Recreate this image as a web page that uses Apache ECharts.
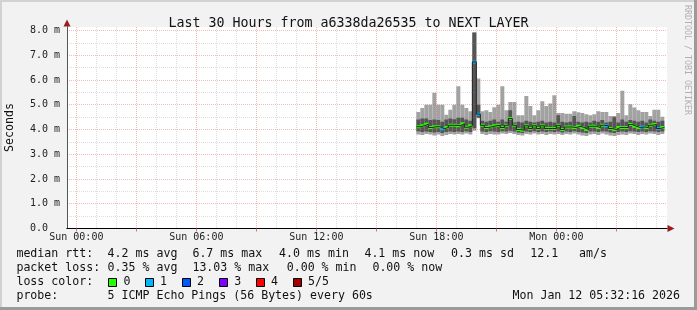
<!DOCTYPE html>
<html><head><meta charset="utf-8">
<script src="https://cdn.jsdelivr.net/npm/echarts@6/dist/echarts.min.js"></script>
<style>html,body{margin:0;padding:0;background:#f2f2f2;}#c{width:697px;height:310px;}</style>
</head><body><div id="c"></div>
<script>
// ---- data (minutes relative to Sun 00:00; values in ms) ----
const firstBinMinute = 1020;   // Sun 17:00
const binMinutes = 12;
const pingMax = [4.71,4.87,5.00,5.00,5.48,5.00,5.00,4.60,4.80,5.00,
 5.75,5.00,4.87,4.74,7.92,6.06,4.74,4.78,4.71,4.90,
 5.00,5.75,4.78,5.11,5.11,4.58,4.58,5.35,4.95,4.58,
 4.78,5.14,4.95,5.05,5.38,4.67,4.67,4.64,4.64,4.74,
 4.70,4.67,4.62,4.58,4.62,4.74,4.71,4.71,4.54,4.51,
 4.67,5.56,4.58,5.02,4.89,4.78,4.71,4.71,4.54,4.80,
 4.80,4.51];
const pingHigh = [4.40,4.44,4.44,4.38,4.40,4.38,4.31,4.40,4.44,4.41,
 4.47,4.47,4.40,4.35,7.92,5.00,4.35,4.31,4.35,4.40,
 4.31,4.40,4.31,4.78,4.28,4.31,4.28,4.35,4.31,4.28,
 4.31,4.35,4.28,4.31,4.28,4.58,4.31,4.28,4.31,4.54,
 4.31,4.28,4.31,4.28,4.35,4.31,4.38,4.28,4.31,4.52,
 4.28,4.40,4.31,4.38,4.35,4.31,4.35,4.28,4.40,4.35,
 4.31,4.35];
const medianRtt = [4.11,4.15,4.21,4.08,4.11,4.11,4.03,4.08,4.17,4.17,
 4.15,4.23,4.09,4.15,6.73,4.62,4.17,4.08,4.11,4.15,
 4.17,4.08,4.17,4.44,4.17,4.00,3.97,4.15,4.04,4.15,
 4.04,4.15,4.04,4.04,4.04,4.17,4.00,4.10,4.10,4.08,
 4.13,4.08,4.00,4.13,4.13,4.08,4.17,4.15,4.04,4.00,
 4.08,4.08,4.08,4.20,4.13,4.08,4.10,4.08,4.17,4.20,
 4.04,4.08];
const pingLow = [3.93,3.90,3.92,3.90,3.88,3.90,3.86,3.90,3.92,3.90,
 3.92,3.90,3.93,3.90,4.05,4.47,3.92,3.90,3.93,3.92,
 3.90,3.93,3.92,3.95,3.92,3.88,3.86,3.92,3.90,3.93,
 3.90,3.92,3.90,3.92,3.90,3.92,3.88,3.92,3.90,3.93,
 3.90,3.88,3.86,3.92,3.92,3.90,3.93,3.92,3.88,3.86,
 3.90,3.92,3.90,3.93,3.92,3.90,3.92,3.90,3.93,3.92,
 3.90,3.92];
const pingMin = [3.80,3.78,3.82,3.80,3.76,3.80,3.74,3.78,3.82,3.80,
 3.82,3.80,3.84,3.80,3.95,4.45,3.82,3.78,3.82,3.80,
 3.80,3.84,3.82,3.86,3.82,3.78,3.76,3.82,3.80,3.84,
 3.80,3.82,3.78,3.82,3.80,3.82,3.78,3.82,3.80,3.84,
 3.80,3.76,3.74,3.80,3.82,3.78,3.84,3.80,3.76,3.74,
 3.78,3.80,3.78,3.84,3.82,3.78,3.82,3.80,3.84,3.82,
 3.78,3.82];
const lossCount = [0,0,0,0,0,0,1,0,0,0, 0,0,0,0,1,1,0,0,0,0,
 0,0,0,0,0,0,0,0,0,0, 0,0,0,0,0,0,0,0,0,0,
 0,0,0,0,0,0,0,1,0,0, 0,0,0,0,0,0,1,0,0,0, 1,0];
const xLabelValues = [0, 360, 720, 1080, 1440];
const xLabelTexts = ['Sun 00:00','Sun 06:00','Sun 12:00','Sun 18:00','Mon 00:00'];
const yLabelValues = [0,1,2,3,4,5,6,7,8];
const yLabelTexts = ['0.0  ','1.0 m','2.0 m','3.0 m','4.0 m','5.0 m','6.0 m','7.0 m','8.0 m'];
const lossLabels = ['0','1','2','3','4','5/5'];
const lossColors = ['#26ff00','#00b8ff','#0059ff','#7e00ff','#ff0000','#a10000'];

// ---- build ----
const MONO = "'DejaVu Sans Mono', monospace";
const xMin = -28, xMax = 1772, yMin = 0, yMax = 8.14;
const bins = medianRtt.map((m, i) => [firstBinMinute + i * binMinutes, firstBinMinute + (i + 1) * binMinutes]);
const smokeData = bins.map((b, i) => [b[0], b[1], pingMin[i], pingLow[i], pingHigh[i], pingMax[i]]);
const medianData = bins.map((b, i) => [b[0], b[1], medianRtt[i], lossCount[i]]);
const medianLine = bins.map((b, i) => [b[0], medianRtt[i]])
  .concat([[bins[bins.length - 1][1], medianRtt[medianRtt.length - 1]]]);

const xMinorGrid = [], xMajorGrid = [], yMinorGrid = [], yMajorGrid = [];
for (let m = 0; m <= xMax; m += 60) (m % 180 === 0 ? xMajorGrid : xMinorGrid).push(m);
for (let v = 0; v <= 8; v += 0.5) (v % 1 === 0 ? yMajorGrid : yMinorGrid).push(v);

const minorLine = {show: true, lineStyle: {color: 'rgba(150,150,150,0.32)', width: 1, type: [1, 1]}};
const majorLine = {show: true, lineStyle: {color: 'rgba(225,60,60,0.36)', width: 1, type: [1, 1]}};
const arrowColor = '#9b1c1c';

function renderSmoke(params, api) {
  const t0 = api.value(0), t1 = api.value(1);
  const a = api.coord([t0, api.value(5)]), b = api.coord([t1, api.value(2)]);
  const c = api.coord([t0, api.value(4)]), d = api.coord([t1, api.value(3)]);
  return {type: 'group', children: [
    {type: 'rect', shape: {x: a[0], y: a[1], width: b[0] - a[0], height: b[1] - a[1]}, style: {fill: '#a2a2a2'}},
    {type: 'rect', shape: {x: c[0], y: c[1], width: d[0] - c[0], height: d[1] - c[1]}, style: {fill: '#555555'}}
  ]};
}
function renderMedian(params, api) {
  const p0 = api.coord([api.value(0), api.value(2)]);
  const p1 = api.coord([api.value(1), api.value(2)]);
  return {type: 'rect', shape: {x: p0[0], y: p0[1] - 1.5, width: p1[0] - p0[0], height: 3},
          style: {fill: lossColors[api.value(3)]}};
}

const txt = (x, y, text, opts, extra) => Object.assign({type: 'text', x: x, y: y, z: 10,
  style: Object.assign({text: text, font: '11.6px ' + MONO, fill: '#111', textAlign: 'left', textVerticalAlign: 'middle'}, (opts || {}))}, extra || {});

const graphics = [
  {type: 'rect', shape: {x: 0, y: 0, width: 697, height: 2}, style: {fill: '#d2d2d2'}},
  {type: 'rect', shape: {x: 0, y: 0, width: 2, height: 310}, style: {fill: '#d2d2d2'}},
  {type: 'rect', shape: {x: 694, y: 0, width: 3, height: 310}, style: {fill: '#9a9a9a'}},
  {type: 'rect', shape: {x: 0, y: 307, width: 697, height: 3}, style: {fill: '#9a9a9a'}},
  txt(10, 127.5, 'Seconds', {textAlign: 'center'}, {rotation: Math.PI / 2}),
  {type: 'text', x: 687, y: 60, rotation: -Math.PI / 2, z: 10,
   style: {text: 'RRDTOOL / TOBI OETIKER', font: '8.3px ' + MONO, fill: '#b0b0b0', textAlign: 'center', textVerticalAlign: 'middle'}},
  txt(16.4, 254.3, 'median rtt:'),
  txt(107.6, 254.3, '4.2 ms avg'), txt(192.4, 254.3, '6.7 ms max'), txt(279.1, 254.3, '4.0 ms min'),
  txt(364.4, 254.3, '4.1 ms now'), txt(451.1, 254.3, '0.3 ms sd'), txt(530.2, 254.3, '12.1'), txt(579.1, 254.3, 'am/s'),
  txt(16.4, 268.3, 'packet loss:'),
  txt(107.6, 268.3, '0.35 % avg'), txt(192.4, 268.3, '13.03 % max'), txt(286.7, 268.3, '0.00 % min'), txt(372.4, 268.3, '0.00 % now'),
  txt(16.4, 282.3, 'loss color:'),
  txt(16.4, 296.3, 'probe:'),
  txt(107.6, 296.3, '5 ICMP Echo Pings (56 Bytes) every 60s'),
  txt(680, 296.3, 'Mon Jan 12 05:32:16 2026', {textAlign: 'right'})
];
const boxX = [108.5, 145.5, 182.5, 219.5, 256.5, 293.5];
const boxLabelX = [123.6, 160, 196.9, 234.2, 271.1, 308];
lossLabels.forEach((lab, i) => {
  graphics.push({type: 'rect', z: 10, shape: {x: boxX[i], y: 278.5, width: 8, height: 8},
                 style: {fill: lossColors[i], stroke: '#000', lineWidth: 1}});
  graphics.push(txt(boxLabelX[i], 282.3, lab));
});

// the minor-grid axes carry the red arrows; the main axes lie on top of them
const chart = echarts.init(document.getElementById('c'));
chart.setOption({
  animation: false,
  backgroundColor: '#f2f2f2',
  title: {text: 'Last 30 Hours from a6338da26535 to NEXT LAYER', left: 'center', top: 12.5,
          textStyle: {fontFamily: MONO, fontSize: 13.3, fontWeight: 'normal', color: '#111'}},
  grid: {left: 67, right: 30, top: 27, bottom: 81.5, show: true, backgroundColor: '#ffffff', borderWidth: 0,
         outerBoundsMode: 'none'},
  xAxis: [
    {type: 'value', position: 'bottom', min: xMin, max: xMax, z: 3,
     axisLine: {show: true, onZero: false, symbol: ['none', 'triangle'], symbolSize: [7, 7], symbolOffset: [0, 4],
                lineStyle: {color: arrowColor}},
     axisTick: {show: false, customValues: xMinorGrid}, axisLabel: {show: false}, splitLine: minorLine},
    {type: 'value', position: 'bottom', min: xMin, max: xMax, z: 3,
     axisLine: {show: true, onZero: false, lineStyle: {color: '#000'}},
     axisTick: {show: true, customValues: xMajorGrid, length: 3, lineStyle: {color: '#e07070'}},
     axisLabel: {customValues: xLabelValues, formatter: v => xLabelTexts[xLabelValues.indexOf(v)],
                 fontFamily: MONO, fontSize: 10, color: '#222', margin: 4},
     splitLine: majorLine}
  ],
  yAxis: [
    {type: 'value', position: 'left', min: yMin, max: yMax, z: 3,
     axisLine: {show: true, onZero: false, symbol: ['none', 'triangle'], symbolSize: [7, 7], symbolOffset: [0, 4],
                lineStyle: {color: arrowColor}},
     axisTick: {show: false, customValues: yMinorGrid}, axisLabel: {show: false}, splitLine: minorLine},
    {type: 'value', position: 'left', min: yMin, max: yMax, z: 3,
     axisLine: {show: true, onZero: false, lineStyle: {color: '#555'}},
     axisTick: {show: false, customValues: yMajorGrid},
     axisLabel: {customValues: yLabelValues, formatter: v => yLabelTexts[yLabelValues.indexOf(v)],
                 fontFamily: MONO, fontSize: 10, color: '#222', margin: 7},
     splitLine: majorLine}
  ],
  graphic: graphics,
  series: [
    {type: 'custom', xAxisIndex: 1, yAxisIndex: 1, renderItem: renderSmoke, data: smokeData,
     encode: {x: [0, 1], y: [2, 5]}, clip: true, silent: true},
    {type: 'line', xAxisIndex: 1, yAxisIndex: 1, data: medianLine, step: 'end', symbol: 'none',
     lineStyle: {color: '#202020', width: 1}, silent: true},
    {type: 'custom', xAxisIndex: 1, yAxisIndex: 1, renderItem: renderMedian, data: medianData,
     encode: {x: [0, 1], y: 2}, clip: true, silent: true}
  ]
});
</script></body></html>
